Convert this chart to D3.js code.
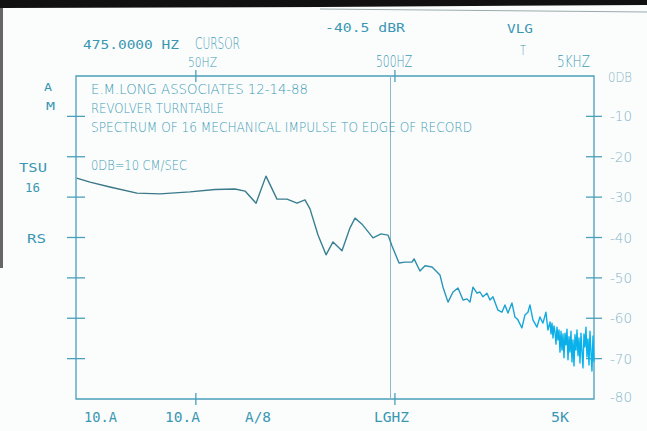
<!DOCTYPE html>
<html><head><meta charset="utf-8">
<script src="https://cdn.jsdelivr.net/npm/d3@7"></script>
<style>
html,body{margin:0;padding:0;background:#fbfdfd;}
svg{display:block}
.thin{font-family:"DejaVu Sans",sans-serif;font-weight:200;fill:#3f9bb4}
.bold{font-family:"DejaVu Sans Mono",monospace;font-weight:400;fill:#3a97b2}
.axl{font-family:"DejaVu Sans",sans-serif;font-weight:200;fill:#86b4c7}
</style>
</head><body>
<svg id="c" width="647" height="431"></svg>
<script>
// ---- data ----
const freqHz = [12.6,14.7,18.5,25.3,33.0,46.7,62.4,78.6,88.3,100.3,112.5,127.8,143.5,161.1,176.7,187.2,205.4,225.4,244.3,271.1,297.4,315.1,341.7,388.1,425.7,461.6,483.5,524.2,562,609,624,668,708,768,
  842,872,924,979,1037,1099,1151,1191,1233,1292,1337,1384,1450,1501,1554,1646,1724,1785,1848,1935,2004,2074,2172,2249,2329,2383,2467,2584,2675,2770,2867,2934,
  3006,3041,3076,3112,3148,3185,3222,3259,3297,3336,3374,3414,3453,3493,3534,3575,3617,3659,3701,3744,3788,3832,3876,3921,3967,4013,4060,4107,4155,4203,4252,4301,4351,4402,4453,4505,4557,4610,4664,4718,4773,4828,4884,4941,4999];
const levelDb = [-25.3,-26.3,-27.5,-29.0,-29.2,-28.7,-28.1,-28.0,-28.5,-31.5,-24.8,-30.5,-30.5,-31.5,-30.7,-32.9,-39.4,-44.3,-41.1,-43.3,-37.6,-35.2,-36.7,-40.1,-39.1,-39.4,-42.1,-46.3,-46.1,-46.1,-45.3,-48.3,-47.0,-47.3,
  -49.3,-52.3,-56.0,-53.5,-52.5,-55.5,-55.2,-56.0,-52.3,-53.8,-53.5,-54.7,-53.8,-55.5,-54.7,-58.0,-58.5,-56.7,-58.7,-56.2,-59.7,-60.4,-62.4,-59.2,-58.5,-56.7,-60.4,-62.2,-59.7,-61.2,-58.5,-62.9,
  -60.9,-63.9,-61.2,-64.9,-61.9,-63.4,-66.4,-62.2,-65.4,-62.9,-68.4,-63.2,-67.9,-63.9,-69.8,-63.7,-66.6,-62.7,-70.3,-64.6,-68.4,-63.2,-70.8,-65.4,-71.8,-64.1,-67.9,-62.9,-69.3,-64.9,-71.1,-63.7,-68.4,-72.3,-63.9,-67.1,-62.2,-69.6,-65.1,-71.6,-63.2,-68.4,-73.1,-64.4,-70.8];
const dbTicks = [0,-10,-20,-30,-40,-50,-60,-70,-80];
const dbTickLabels = ["0DB","-10","-20","-30","-40","-50","-60","-70","-80"];
const freqTicks = [50,500,5000];
const freqTickLabels = ["50HZ","500HZ","5KHZ"];
const bottomLabels = ["10.A","10.A","A/8","LGHZ","5K"];
const sideLabels = ["A","M","TSU","16","RS"];
const notes = ["E.M.LONG ASSOCIATES  12-14-88","REVOLVER TURNTABLE","SPECTRUM OF 16 MECHANICAL IMPULSE TO EDGE OF RECORD","0DB=10 CM/SEC"];
const cursorHz = 475;
const cursorText = "475.0000 HZ";
const cursorWord = "CURSOR";
const levelText = "-40.5 dBR";
const modeTexts = ["VLG","T"];

// ---- layout ----
const L=76,R=594,T=76,B=399;
const x = d3.scaleLog().domain([12.5,5000]).range([L,R]);
const y = d3.scaleLinear().domain([-80,0]).range([B,T]);
const svg = d3.select("#c");

// photo edges
svg.append("path").attr("d","M0,0 H647 V5 L320,7 L0,8 Z").attr("fill","#111");
svg.append("path").attr("d","M320,9 L647,12").attr("stroke","#9aa","stroke-width",1.2).attr("fill","none");
svg.append("rect").attr("x",0).attr("y",8).attr("width",3).attr("height",260).attr("fill","#666");

function txt(s,x0,x1,cy,capH,cls){
  const fs=capH/0.729;
  svg.append("text").attr("class",cls).attr("x",x0).attr("y",cy+capH/2)
    .attr("font-size",fs).attr("textLength",x1-x0).attr("lengthAdjust","spacingAndGlyphs").text(s);
}

const axisCol="#4a9fb9";
// frame
svg.append("path").attr("d",`M${L},${T} H${R} V${B} H${L} Z`).attr("fill","none").attr("stroke",axisCol).attr("stroke-width",1.3);
// cursor line
svg.append("line").attr("x1",x(cursorHz)).attr("x2",x(cursorHz)).attr("y1",T).attr("y2",B)
  .attr("stroke","#8fb6c6").attr("stroke-width",1);

// cross ticks on left and right
const inner = dbTicks.filter(d=>d<0 && d>-80);
inner.forEach(d=>{
  svg.append("line").attr("x1",L-9).attr("x2",L+9).attr("y1",y(d)).attr("y2",y(d)).attr("stroke",axisCol).attr("stroke-width",1.3);
  svg.append("line").attr("x1",R-8).attr("x2",R+8).attr("y1",y(d)).attr("y2",y(d)).attr("stroke",axisCol).attr("stroke-width",1.3);
});
// top / bottom ticks
freqTicks.slice(0,2).forEach(f=>{
  svg.append("line").attr("x1",x(f)).attr("x2",x(f)).attr("y1",T-6).attr("y2",T+6).attr("stroke",axisCol).attr("stroke-width",1.3);
  svg.append("line").attr("x1",x(f)).attr("x2",x(f)).attr("y1",B-6).attr("y2",B+6).attr("stroke",axisCol).attr("stroke-width",1.3);
});

// gradient for trace
const grad = svg.append("defs").append("linearGradient").attr("id","tg")
  .attr("gradientUnits","userSpaceOnUse").attr("x1",L).attr("x2",R).attr("y1",0).attr("y2",0);
[[0,"#3b7585"],[0.5,"#3a7f90"],[0.66,"#2f8eab"],[0.8,"#1ea0d0"],[0.92,"#0daee6"],[1,"#07b3ee"]]
  .forEach(([o,c])=>grad.append("stop").attr("offset",o).attr("stop-color",c));

const pts = freqHz.map((f,i)=>[f,levelDb[i]]);
svg.append("path").datum(pts)
  .attr("d",d3.line().x(d=>x(d[0])).y(d=>y(d[1])))
  .attr("fill","none").attr("stroke","url(#tg)").attr("stroke-width",1.4).attr("stroke-linejoin","round");

// right axis labels
dbTicks.forEach((d,i)=>{
  const s=dbTickLabels[i];
  if(i===0) txt(s,608,632,y(d)+1,10,"axl");
  else txt(s,610,632,y(d)+(i===8?-2:0),10,"axl");
});
// top frequency labels
txt(freqTickLabels[0],188,217,62,10,"thin");
txt(freqTickLabels[1],376,412,61,11,"thin");
txt(freqTickLabels[2],557,590,61,11,"thin");

// header texts
txt(cursorText,83,179,44.5,8.5,"bold");
txt(cursorWord,195,240,43,12,"thin");
txt(levelText,325,405,27.5,9,"bold");
txt(modeTexts[0],507,533,28.5,9,"bold");
txt(modeTexts[1],520,526,49.5,10,"thin");

// side labels
const sidePos=[[44,52,86.5,8],[46,55,106,8],[19,47,167.5,9],[25,40,187.5,9],[27,46,238,9]];
sideLabels.forEach((s,i)=>{const p=sidePos[i];txt(s,p[0],p[1],p[2],p[3],"bold");});

// notes inside plot
const notePos=[[91,308,89],[91,224,107.5],[91,472,126.5],[91,187,165]];
notes.forEach((s,i)=>{const p=notePos[i];txt(s,p[0],p[1],p[2],10,"thin");});

// bottom labels
const botPos=[[84,117],[165,200],[245,271],[374,409],[551,569]];
bottomLabels.forEach((s,i)=>{const p=botPos[i];txt(s,p[0],p[1],417,10,"bold");});
</script>
</body></html>
